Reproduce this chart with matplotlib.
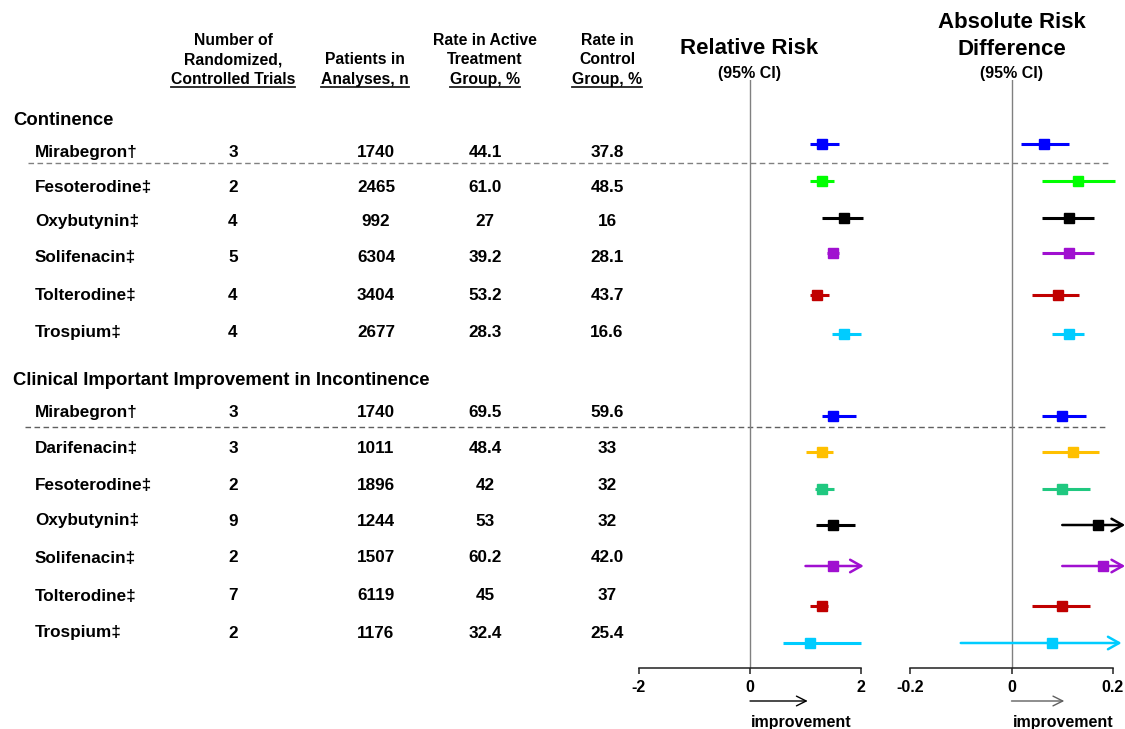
import matplotlib
matplotlib.use('Agg')
import matplotlib.pyplot as plt

matplotlib.rcParams['font.family'] = ['Liberation Sans', 'DejaVu Sans']
matplotlib.rcParams['font.weight'] = 'bold'

# Continence
drugs_a = ['Mirabegron†', 'Fesoterodine‡', 'Oxybutynin‡', 'Solifenacin‡', 'Tolterodine‡', 'Trospium‡']
trials_a = [3, 2, 4, 5, 4, 4]
patients_a = [1740, 2465, 992, 6304, 3404, 2677]
active_a = ['44.1', '61.0', '27', '39.2', '53.2', '28.3']
control_a = ['37.8', '48.5', '16', '28.1', '43.7', '16.6']
rr_a = [1.30, 1.30, 1.69, 1.49, 1.20, 1.69]
rr_lo_a = [1.09, 1.09, 1.29, 1.38, 1.09, 1.48]
rr_hi_a = [1.60, 1.51, 2.03, 1.61, 1.42, 2.00]
ard_a = [0.065, 0.132, 0.113, 0.113, 0.091, 0.113]
ard_lo_a = [0.019, 0.061, 0.061, 0.061, 0.040, 0.080]
ard_hi_a = [0.113, 0.204, 0.163, 0.163, 0.133, 0.143]
colors_a = ['#0000FF', '#00FF00', '#000000', '#A010D0', '#C00000', '#00CCFF']

# Clinical important improvement in incontinence
drugs_b = ['Mirabegron†', 'Darifenacin‡', 'Fesoterodine‡', 'Oxybutynin‡', 'Solifenacin‡', 'Tolterodine‡', 'Trospium‡']
trials_b = [3, 3, 2, 9, 2, 7, 2]
patients_b = [1740, 1011, 1896, 1244, 1507, 6119, 1176]
active_b = ['69.5', '48.4', '42', '53', '60.2', '45', '32.4']
control_b = ['59.6', '33', '32', '32', '42.0', '37', '25.4']
rr_b = [1.50, 1.29, 1.30, 1.49, 1.49, 1.30, 1.09]
rr_lo_b = [1.29, 1.00, 1.18, 1.19, 1.00, 1.09, 0.59]
rr_hi_b = [1.91, 1.50, 1.51, 1.90, 2.05, 1.41, 2.00]
rr_open_b = [False, False, False, False, True, False, False]
ard_b = [0.100, 0.121, 0.100, 0.171, 0.181, 0.100, 0.079]
ard_lo_b = [0.061, 0.061, 0.061, 0.100, 0.100, 0.040, -0.100]
ard_hi_b = [0.147, 0.173, 0.155, 0.224, 0.224, 0.155, 0.217]
ard_open_b = [False, False, False, True, True, False, True]
colors_b = ['#0000FF', '#FFC000', '#20C880', '#000000', '#A010D0', '#C00000', '#00CCFF']

# row positions (pixels from top)
text_y_a = [152, 187, 221, 257, 295, 332]
text_y_b = [412, 448, 485, 521, 558, 596, 633]
mark_y_a = [144, 181, 218, 253, 295, 334]
mark_y_b = [416, 452, 489, 525, 566, 606, 643]

W, H = 1125, 729
fig = plt.figure(figsize=(W / 100, H / 100), dpi=100)
bg = fig.add_axes([0, 0, 1, 1])
bg.set_xlim(0, W)
bg.set_ylim(H, 0)
bg.axis('off')

fs = 12.3
col_x = [233, 376, 485, 607]

# column headers
headers = [
    (233, ['Number of', 'Randomized,', 'Controlled Trials']),
    (365, ['Patients in', 'Analyses, n']),
    (485, ['Rate in Active', 'Treatment', 'Group, %']),
    (607, ['Rate in', 'Control', 'Group, %']),
]
underlined = []
for x, lines in headers:
    for i, line in enumerate(lines):
        y = 79 - 19.5 * (len(lines) - 1 - i)
        t = bg.text(x, y, line, ha='center', va='center', fontsize=11.3)
    underlined.append(t)

bg.text(13, 120, 'Continence', ha='left', va='center', fontsize=13.3)
bg.text(13, 380, 'Clinical Important Improvement in Incontinence', ha='left', va='center', fontsize=13.3)


def table_rows(drugs, trials, patients, active, control, ys):
    for d, t, p, a, c, y in zip(drugs, trials, patients, active, control, ys):
        bg.text(35, y, d, ha='left', va='center', fontsize=fs)
        for x, v in zip(col_x, [t, p, a, c]):
            bg.text(x, y, str(v), ha='center', va='center', fontsize=fs)


table_rows(drugs_a, trials_a, patients_a, active_a, control_a, text_y_a)
table_rows(drugs_b, trials_b, patients_b, active_b, control_b, text_y_b)

# dashed separators under mirabegron rows
bg.plot([28, 1108], [163, 163], color='#808080', lw=1, ls=(0, (4, 2.5)))
bg.plot([25, 1105], [427, 427], color='#606060', lw=1, ls=(0, (4, 2.5)))

# forest panels
top, bottom = 80, 668
panels = [
    (639, 861, (-2, 2), [-2, 0, 2], ['-2', '0', '2'],
     (rr_a, rr_lo_a, rr_hi_a, [False] * 6), (rr_b, rr_lo_b, rr_hi_b, rr_open_b), 'black'),
    (910, 1113, (-0.2, 0.2), [-0.2, 0, 0.2], ['-0.2', '0', '0.2'],
     (ard_a, ard_lo_a, ard_hi_a, [False] * 6), (ard_b, ard_lo_b, ard_hi_b, ard_open_b), '#606060'),
]
for x0, x1, xlim, ticks, ticklabels, grp_a, grp_b, arrow_col in panels:
    ax = fig.add_axes([x0 / W, (H - bottom) / H, (x1 - x0) / W, (bottom - top) / H])
    ax.patch.set_visible(False)
    ax.set_xlim(*xlim)
    ax.set_ylim(bottom, top)
    for s in ['top', 'right', 'left']:
        ax.spines[s].set_visible(False)
    ax.spines['bottom'].set_color('#202020')
    ax.spines['bottom'].set_linewidth(1.1)
    ax.set_yticks([])
    ax.set_xticks(ticks)
    ax.set_xticklabels(ticklabels, fontsize=11.5, fontweight='bold')
    ax.tick_params(axis='x', direction='out', length=4, width=1.1, pad=5, color='#202020')
    ax.axvline(0, color='#808080', lw=1, zorder=1)

    for (est, lo, hi, open_end), ys, cols in [(grp_a, mark_y_a, colors_a), (grp_b, mark_y_b, colors_b)]:
        for e, l, h, o, y, c in zip(est, lo, hi, open_end, ys, cols):
            if o:
                ax.annotate('', xy=(h, y), xytext=(l, y), annotation_clip=False,
                            arrowprops=dict(arrowstyle='->,head_length=0.8,head_width=0.45',
                                            color=c, lw=1.8, shrinkA=0, shrinkB=0))
            else:
                ax.plot([l, h], [y, y], color=c, lw=2.2, solid_capstyle='butt', clip_on=False)
            ax.plot(e, y, 's', color=c, ms=7, clip_on=False, zorder=3)

    # improvement direction
    span = xlim[1] - xlim[0]
    ax.annotate('', xy=(span * 0.26, 701), xytext=(0, 701), annotation_clip=False,
                arrowprops=dict(arrowstyle='->,head_length=0.7,head_width=0.35',
                                color=arrow_col, lw=1, shrinkA=0, shrinkB=0))
    ax.text(0.005 * span, 722, 'improvement', ha='left', va='center', fontsize=11.5,
            clip_on=False)

# panel titles
bg.text(749, 48, 'Relative Risk', ha='center', va='center', fontsize=16)
bg.text(749, 73, '(95% CI)', ha='center', va='center', fontsize=11.5)
bg.text(1012, 22, 'Absolute Risk', ha='center', va='center', fontsize=16)
bg.text(1012, 49, 'Difference', ha='center', va='center', fontsize=16)
bg.text(1012, 73, '(95% CI)', ha='center', va='center', fontsize=11.5)

# underline the last header lines
fig.canvas.draw()
r = fig.canvas.get_renderer()
for t in underlined:
    bb = t.get_window_extent(r)
    bg.plot([bb.x0, bb.x1], [87, 87], color='#202020', lw=1.3)

fig.savefig('out.png', dpi=100)
